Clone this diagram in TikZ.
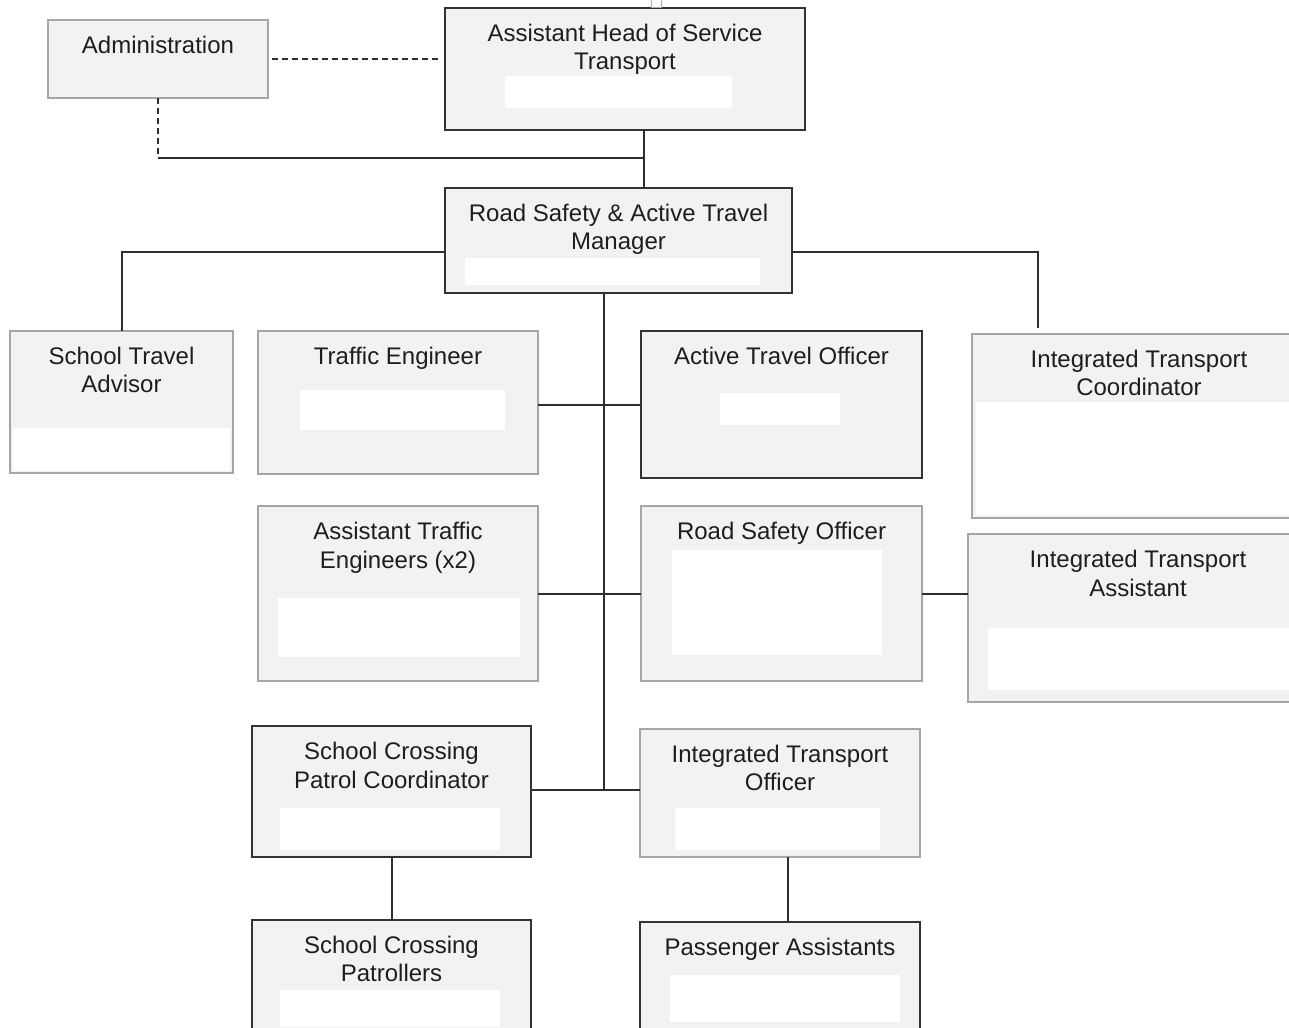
\documentclass[tikz,border=0pt]{standalone}
\usepackage{fontspec}
\setmainfont{Liberation Sans}
\definecolor{ink}{HTML}{1E1E1E}
\definecolor{lineC}{HTML}{2E2E2E}
\definecolor{lightB}{HTML}{A6A6A6}
\definecolor{darkB}{HTML}{333333}
\definecolor{boxfill}{HTML}{F2F2F2}
\begin{document}
\begin{tikzpicture}[x=1pt,y=-1pt,
  box/.style={draw, fill=boxfill, inner sep=0pt, outer sep=0pt},
  lightbox/.style={box, draw=lightB, line width=1.6pt},
  darkbox/.style={box, draw=darkB, line width=2pt},
  lbl/.style={anchor=north, inner sep=0pt, align=center, text=ink,
    font=\fontsize{24}{28.5}\selectfont},
  conn/.style={draw=lineC, line width=2pt},
  dconn/.style={conn, dash pattern=on 6pt off 4pt}]
\useasboundingbox (0,0) rectangle (1289,1027);
\clip (0,0) rectangle (1289,1027);
\fill[white] (0,0) rectangle (1289,1027);

% boxes
\node[lightbox, minimum width=220, minimum height=78]  (adm)  at (158,59) {};
\node[darkbox,  minimum width=360, minimum height=122] (ahs)  at (625,69) {};
\node[darkbox,  minimum width=347, minimum height=105] (mgr)  at (618.5,240.5) {};
\node[lightbox, minimum width=223, minimum height=142] (sta)  at (121.5,402) {};
\node[lightbox, minimum width=280, minimum height=143] (te)   at (398,402.5) {};
\node[darkbox,  minimum width=281, minimum height=147] (ato)  at (781.5,404.5) {};
\node[lightbox, minimum width=334, minimum height=184] (itc)  at (1139,426) {};
\node[lightbox, minimum width=280, minimum height=175] (ate)  at (398,593.5) {};
\node[lightbox, minimum width=281, minimum height=175] (rso)  at (781.5,593.5) {};
\node[lightbox, minimum width=340, minimum height=168] (ita)  at (1138,618) {};
\node[darkbox,  minimum width=279, minimum height=131] (scpc) at (391.5,791.5) {};
\node[lightbox, minimum width=280, minimum height=128] (ito)  at (780,793) {};
\node[darkbox,  minimum width=279, minimum height=130] (scp)  at (391.5,985) {};
\node[darkbox,  minimum width=280, minimum height=128] (pa)   at (780,986) {};

% blank (white) areas inside boxes
\fill[white] (505,76) rectangle (732,108);
\fill[white] (465,258) rectangle (760,285);
\fill[white] (13,428) rectangle (230,471);
\fill[white] (300,390) rectangle (505,430);
\fill[white] (720,393) rectangle (840,425);
\fill[white] (976,402) rectangle (1289,515);
\fill[white] (278,598) rectangle (520,657);
\fill[white] (672,550) rectangle (882,655);
\fill[white] (988,628) rectangle (1289,690);
\fill[white] (280,808) rectangle (500,850);
\fill[white] (675,808) rectangle (880,850);
\fill[white] (670,975) rectangle (900,1022);
\fill[white] (280,990) rectangle (500,1027);
\draw[blue!35, line width=1pt] (651,0) rectangle (661,8);

% labels
\node[lbl] (admT)  at ([yshift=-15.5]adm.north)  {Administration};
\node[lbl] (ahsT)  at ([yshift=-15.5]ahs.north)  {Assistant Head of Service\\Transport};
\node[lbl] (mgrT)  at ([yshift=-15.5]mgr.north)  {Road Safety \& Active Travel\\Manager};
\node[lbl] (staT)  at ([yshift=-15.5]sta.north)  {School Travel\\Advisor};
\node[lbl] (teT)   at ([yshift=-15.5]te.north)   {Traffic Engineer};
\node[lbl] (atoT)  at ([yshift=-15.5]ato.north)  {Active Travel Officer};
\node[lbl] (itcT)  at ([yshift=-15.5]itc.north)  {Integrated Transport\\Coordinator};
\node[lbl] (ateT)  at ([yshift=-16]ate.north)    {Assistant Traffic\\Engineers (x2)};
\node[lbl] (rsoT)  at ([yshift=-16]rso.north)    {Road Safety Officer};
\node[lbl] (itaT)  at ([yshift=-16]ita.north)    {Integrated Transport\\Assistant};
\node[lbl] (scpcT) at ([yshift=-16]scpc.north)   {School Crossing\\Patrol Coordinator};
\node[lbl] (itoT)  at ([yshift=-15.5]ito.north)  {Integrated Transport\\Officer};
\node[lbl] (scpT)  at ([yshift=-15.5]scp.north)  {School Crossing\\Patrollers};
\node[lbl] (paT)   at ([yshift=-15.5]pa.north)   {Passenger Assistants};

% connectors
\coordinate (jt) at (644,158);
\coordinate (jr) at (1038,328);
\coordinate (jc) at (604,790);
\draw[dconn] ([xshift=4]adm.east) -- ([xshift=-6]adm.east -| ahs.west);
\draw[dconn] (adm.south) -- (adm.south |- jt);
\draw[conn] (adm.south |- jt) -- (jt);
\draw[conn] (ahs.south -| jt) -- (mgr.north -| jt);
\draw[conn] ([yshift=-11.5]mgr.west) -| (sta.north);
\draw[conn] ([yshift=-11.5]mgr.east) -| (jr);
\draw[conn] (mgr.south -| jc) -- (jc);
\draw[conn] (ato.west -| te.east) -- (ato.west);
\draw[conn] (ate.east) -- (rso.west);
\draw[conn] (rso.east) -- (rso.east -| ita.west);
\draw[conn] (scpc.east |- jc) -- (ito.west |- jc);
\draw[conn] (scpc.south) -- (scp.north);
\draw[conn] ([xshift=8]ito.south) -- ([xshift=8]pa.north);
\end{tikzpicture}
\end{document}
